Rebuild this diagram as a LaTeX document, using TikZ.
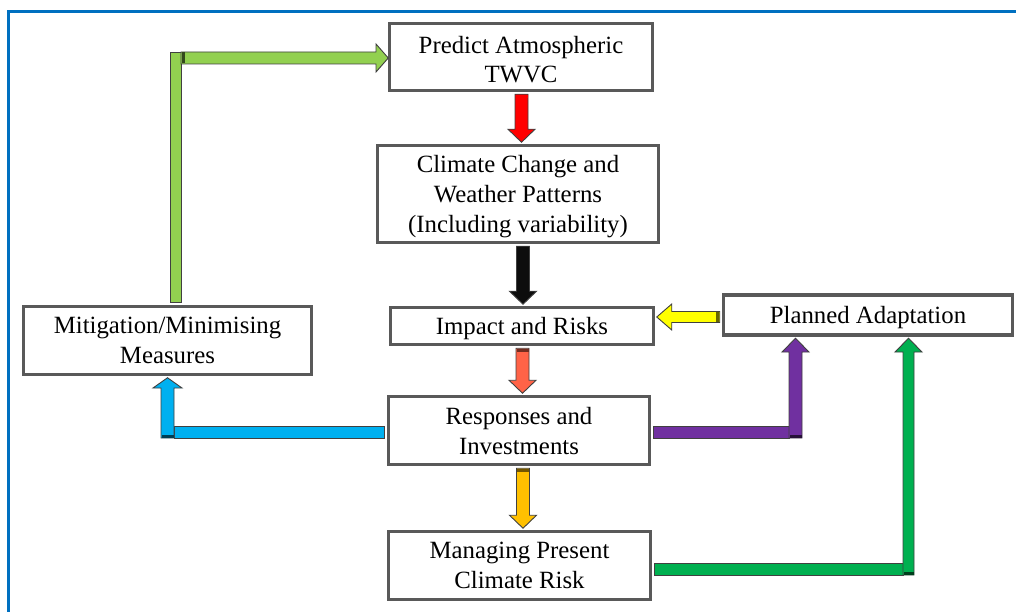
\documentclass[tikz,border=0pt]{standalone}
\usepackage{fontspec}
\setmainfont{Liberation Serif}
\usetikzlibrary{calc}

\definecolor{framecol}{HTML}{0070C0}
\definecolor{boxgray}{HTML}{595959}
\definecolor{cLime}{HTML}{92D050}
\definecolor{cRed}{HTML}{FF0000}
\definecolor{cBlack}{HTML}{0D0D0D}
\definecolor{cYellow}{HTML}{FFFF00}
\definecolor{cTomato}{HTML}{FF6347}
\definecolor{cSky}{HTML}{00B0F0}
\definecolor{cPurple}{HTML}{7030A0}
\definecolor{cGold}{HTML}{FFC000}
\definecolor{cGreen}{HTML}{00B050}

% struts giving every text block the full line ascent and descent
\newcommand\topstrut{\rule{0pt}{0.89em}}
\newcommand\botstrut{\rule[-0.22em]{0pt}{0.22em}}

% straight downward block arrow: fill, band colour, from node, to node, x shift
\newcommand\vblock[5]{%
  \filldraw[arrline, fill=#1] let \p1=(#3.south), \p2=(#4.north) in
    (\x1+#5pt-6.5pt,\y1-2pt) -- (\x1+#5pt+6.5pt,\y1-2pt)
    -- (\x1+#5pt+6.5pt,\y2+14.5pt) -- (\x1+#5pt+13.5pt,\y2+14.5pt)
    -- (\x1+#5pt,\y2+1.5pt)
    -- (\x1+#5pt-13.5pt,\y2+14.5pt) -- (\x1+#5pt-6.5pt,\y2+14.5pt) -- cycle;
  \fill[#2] let \p1=(#3.south) in
    (\x1+#5pt-6pt,\y1-2.5pt) rectangle (\x1+#5pt+6pt,\y1-5.5pt);
}

\begin{document}
\begin{tikzpicture}[x=1pt,y=1pt,
  box/.style={draw=boxgray, line width=3.5pt, fill=white, align=center,
    inner sep=0pt, font=\fontsize{24.8}{29.8}\selectfont},
  arrline/.style={draw=black!75, line width=0.9pt, line join=miter}]
\useasboundingbox (0,0) rectangle (1016,611);
\clip (0,0) rectangle (1016,611);

% outer frame
\draw[framecol, line width=3.5pt] (8.5,-20) -- (8.5,599.5) -- (1040,599.5);

% boxes
\node[box, minimum width=263pt, minimum height=67pt] (predict) at (521,554)
  {\rule{0pt}{1.1em}Predict Atmospheric\\TWVC\botstrut};
\node[box, minimum width=281pt, minimum height=97pt] (climate) at (518,417)
  {\topstrut Climate Change and\\Weather Patterns\\(Including variability)\botstrut};
\node[box, minimum width=263pt, minimum height=37pt] (impact) at (522,285)
  {\topstrut Impact and Risks\botstrut};
\node[box, minimum width=289pt, minimum height=40pt] (planned) at (868,296)
  {\topstrut Planned Adaptation\botstrut};
\node[box, minimum width=288pt, minimum height=68pt] (mitig) at (167.5,270.5)
  {\topstrut Mitigation/Minimising\\Measures\botstrut};
\node[box, minimum width=261pt, minimum height=68pt] (resp) at (519,180.5)
  {\rule{0pt}{0.95em}Responses and\\Investments\botstrut};
\node[box, minimum width=262pt, minimum height=68pt] (manage) at (519.5,45.5)
  {\topstrut Managing Present\\Climate Risk\botstrut};

% vertical block arrows down the middle
\vblock{cRed}{cRed}{predict}{climate}{0.5}
\vblock{cBlack}{cBlack}{climate}{impact}{5}
\vblock{cTomato}{cTomato!45!black}{impact}{resp}{0.5}
\vblock{cGold}{cGold!45!black}{resp}{manage}{4}

% planned adaptation -> impact and risks
\filldraw[arrline, fill=cYellow] let \p1=(planned.west), \p2=(impact.east) in
  (\x1-2pt,\y1-7.5pt) -- (\x1-2pt,\y1+3.5pt) -- (\x2+16.5pt,\y1+3.5pt)
  -- (\x2+16.5pt,\y1+11pt) -- (\x2+1.5pt,\y1-2pt) -- (\x2+16.5pt,\y1-15pt)
  -- (\x2+16.5pt,\y1-7.5pt) -- cycle;
\fill[cYellow!40!black] let \p1=(planned.west) in
  (\x1-2.5pt,\y1-7pt) rectangle (\x1-5.5pt,\y1+3pt);

% mitigation -> predict
\filldraw[arrline, fill=cLime] let \p1=(mitig.north) in
  (170,\y1+2) rectangle (181,559);
\filldraw[arrline, fill=cLime] let \p2=(predict.west) in
  (181,559) -- (376,559) -- (376,567) -- (\x2+0.5pt,\y2-1pt) -- (376,539)
  -- (376,547) -- (181,547) -- cycle;
\fill[cLime!35!black] (181.5,547.5) rectangle (184.5,558.5);

% responses -> mitigation
\filldraw[arrline, fill=cSky] let \p1=(resp.west) in
  (\x1-2pt,173) rectangle (174,185);
\filldraw[arrline, fill=cSky] let \p2=(mitig.south) in
  (161,173) -- (174,173) -- (174,223) -- (182,223) -- (\x2,\y2-1.5pt)
  -- (153,223) -- (161,223) -- cycle;
\fill[cSky!35!black] (161.5,173.5) rectangle (173.5,176.5);

% responses -> planned adaptation
\filldraw[arrline, fill=cPurple] let \p1=(resp.east) in
  (\x1+2pt,173) rectangle (789,185);
\filldraw[arrline, fill=cPurple] let \p2=(planned.south) in
  (789,173) -- (802,173) -- (802,259) -- (809,259) -- (\x2-72.5pt,\y2-1.5pt)
  -- (782,259) -- (789,259) -- cycle;
\fill[cPurple!35!black] (789.5,173.5) rectangle (801.5,176.5);

% managing present risk -> planned adaptation
\filldraw[arrline, fill=cGreen] let \p1=(manage.east) in
  (\x1+2pt,36) rectangle (903,48);
\filldraw[arrline, fill=cGreen] let \p2=(planned.south) in
  (903,36) -- (914,36) -- (914,259) -- (922,259) -- (\x2+40.5pt,\y2-1.5pt)
  -- (895,259) -- (903,259) -- cycle;
\fill[cGreen!35!black] (903.5,36.5) rectangle (913.5,39.5);
\end{tikzpicture}
\end{document}
